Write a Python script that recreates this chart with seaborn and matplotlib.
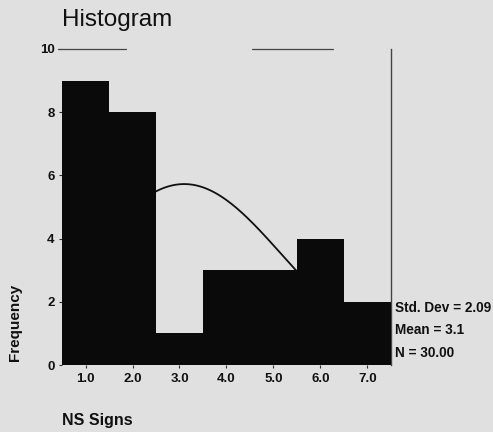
import numpy as np
import pandas as pd
import matplotlib
matplotlib.use("Agg")
import matplotlib.pyplot as plt
import seaborn as sns

# NS Signs frequency table
ns_signs = [1.0, 2.0, 3.0, 4.0, 5.0, 6.0, 7.0]
frequency = [9, 8, 1, 3, 3, 4, 2]
x_tick_labels = ["1.0", "2.0", "3.0", "4.0", "5.0", "6.0", "7.0"]
y_ticks = [0, 2, 4, 6, 8, 10]

std_dev = 2.09
mean = 3.1
n_total = 30.00

sns.set_theme(style="white")
plt.rcParams["font.family"] = ["Liberation Sans", "DejaVu Sans"]

bg = "#e0e0e0"
fig = plt.figure(figsize=(4.93, 4.32), dpi=100, facecolor=bg)
ax = fig.add_axes([0.1258, 0.155, 0.793 - 0.1258, 0.8866 - 0.155])
ax.set_facecolor(bg)

df = pd.DataFrame({"signs": ns_signs, "freq": frequency})
sns.histplot(data=df, x="signs", weights="freq", discrete=True, ax=ax,
             color="#0a0a0a", edgecolor="none", alpha=1.0, linewidth=0,
             zorder=3)

# fitted normal curve scaled to counts
xs = np.linspace(0.5, 7.5, 400)
pdf = n_total * 1.0 / (std_dev * np.sqrt(2 * np.pi)) * np.exp(-0.5 * ((xs - mean) / std_dev) ** 2)
ax.plot(xs, pdf, color="#111111", lw=1.3, zorder=2)

ax.set_xlim(0.5, 7.5)
ax.set_ylim(0, 10)
ax.set_xticks(ns_signs)
ax.set_xticklabels(x_tick_labels)
ax.set_yticks(y_ticks)
ax.set_yticklabels([str(v) for v in y_ticks])
ax.tick_params(axis="both", length=2.5, width=0.8, color="#333333",
               labelsize=9.5, pad=3, direction="out", bottom=True, left=True)
for lab in ax.get_xticklabels() + ax.get_yticklabels():
    lab.set_fontweight("bold")
    lab.set_color("#111111")
ax.set_xlabel("")
ax.set_ylabel("")

for side in ["left", "bottom", "top"]:
    ax.spines[side].set_visible(False)
ax.spines["right"].set_visible(True)
ax.spines["right"].set_color("#444444")
ax.spines["right"].set_linewidth(1.0)

# broken top frame segments
ax.plot([0.42, 1.86], [10, 10], color="#444444", lw=0.9, clip_on=False, zorder=4)
ax.plot([4.55, 6.26], [10, 10], color="#444444", lw=0.9, clip_on=False, zorder=4)

fig.text(62 / 493, 1 - 20 / 432, "Histogram", fontsize=17.5, color="#111111",
         ha="left", va="center")
fig.text(15 / 493, 1 - 322 / 432, "Frequency", fontsize=11, fontweight="bold",
         rotation=90, ha="center", va="center", color="#111111")
fig.text(62 / 493, 1 - 420 / 432, "NS Signs", fontsize=11.5, fontweight="bold",
         ha="left", va="center", color="#111111")

stats = [f"Std. Dev = {std_dev:.2f}", f"Mean = {mean:.1f}", f"N = {n_total:.2f}"]
for i, s in enumerate(stats):
    fig.text(395 / 493, 1 - (308 + 22.5 * i) / 432, s, fontsize=9.8,
             fontweight="bold", ha="left", va="center", color="#111111")

fig.savefig("out.png", dpi=100, facecolor=bg)
